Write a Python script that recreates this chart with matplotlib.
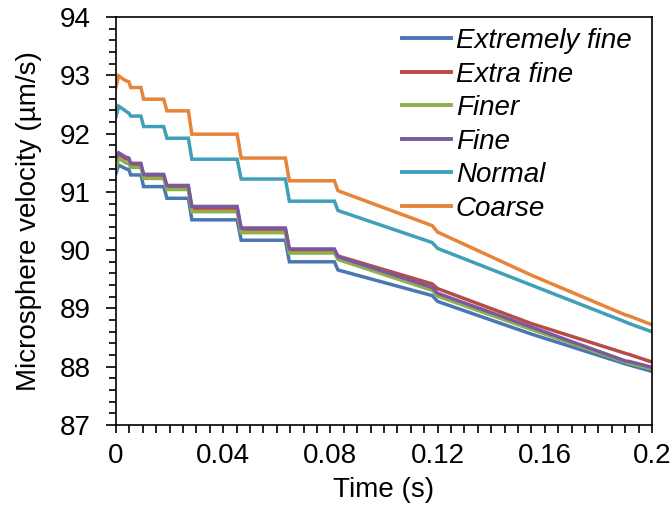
import matplotlib
matplotlib.use('Agg')
import matplotlib.pyplot as plt
from matplotlib.ticker import MultipleLocator, FixedLocator, FixedFormatter

plt.rcParams['font.family'] = ['Liberation Sans', 'DejaVu Sans']

series_names = ['Extremely fine', 'Extra fine', 'Finer', 'Fine', 'Normal', 'Coarse']
colors = ['#4a76b4', '#b84a47', '#8db04f', '#7a5a9c', '#40a0b8', '#e6843a']

time_s = [0, 0.0010, 0.0035, 0.0048, 0.0055, 0.0093, 0.0103, 0.0178, 0.0190, 0.0270,
          0.0283, 0.0452, 0.0467, 0.0632, 0.0647, 0.0815, 0.0828, 0.1180, 0.1200,
          0.1550, 0.1900, 0.1915, 0.2000]

extremely_fine = [91.32, 91.46, 91.40, 91.38, 91.29, 91.29, 91.09, 91.09, 90.89, 90.89,
                  90.52, 90.52, 90.17, 90.17, 89.80, 89.80, 89.66, 89.22, 89.12,
                  88.56, 88.05, 88.03, 87.92]
extra_fine = [91.55, 91.64, 91.57, 91.55, 91.46, 91.46, 91.27, 91.27, 91.08, 91.08,
              90.72, 90.72, 90.36, 90.36, 90.00, 90.00, 89.90, 89.42, 89.34,
              88.74, 88.23, 88.21, 88.08]
finer = [91.40, 91.58, 91.50, 91.48, 91.42, 91.42, 91.23, 91.23, 91.04, 91.04,
         90.66, 90.66, 90.30, 90.30, 89.95, 89.95, 89.84, 89.31, 89.21,
         88.64, 88.08, 88.06, 87.96]
fine = [91.58, 91.67, 91.60, 91.58, 91.49, 91.49, 91.30, 91.30, 91.11, 91.11,
        90.75, 90.75, 90.38, 90.38, 90.02, 90.02, 89.89, 89.36, 89.26,
        88.68, 88.10, 88.09, 87.99]
normal = [92.29, 92.47, 92.39, 92.35, 92.30, 92.30, 92.12, 92.12, 91.92, 91.92,
          91.56, 91.56, 91.22, 91.22, 90.84, 90.84, 90.68, 90.13, 90.03,
          89.40, 88.77, 88.74, 88.60]
coarse = [92.80, 92.99, 92.91, 92.89, 92.79, 92.79, 92.59, 92.59, 92.39, 92.39,
          91.99, 91.99, 91.58, 91.58, 91.19, 91.19, 91.02, 90.42, 90.31,
          89.57, 88.89, 88.87, 88.72]

all_series = [extremely_fine, extra_fine, finer, fine, normal, coarse]

x_ticks = [0, 0.04, 0.08, 0.12, 0.16, 0.2]
x_labels = ['0', '0.04', '0.08', '0.12', '0.16', '0.2']
y_ticks = [87, 88, 89, 90, 91, 92, 93, 94]

fig = plt.figure(figsize=(6.72, 5.07), dpi=100)
ax = fig.add_axes([116/672, 1-425/507, 536/672, 408/507])

for name, vals, c in zip(series_names, all_series, colors):
    ax.plot(time_s, vals, color=c, lw=2.5, label=name, solid_joinstyle='miter')

ax.set_xlim(0, 0.2)
ax.set_ylim(87, 94)
ax.xaxis.set_major_locator(FixedLocator(x_ticks))
ax.xaxis.set_major_formatter(FixedFormatter(x_labels))
ax.xaxis.set_minor_locator(MultipleLocator(0.005))
ax.yaxis.set_major_locator(FixedLocator(y_ticks))
ax.yaxis.set_minor_locator(MultipleLocator(0.2))

ax.tick_params(axis='both', which='both', direction='out', colors='black', width=1.2,
               top=False, right=False, labelsize=20)
ax.tick_params(axis='x', which='major', length=6, pad=7)
ax.tick_params(axis='x', which='minor', length=6)
ax.tick_params(axis='y', which='major', length=7, pad=11)
ax.tick_params(axis='y', which='minor', length=5)
for s in ax.spines.values():
    s.set_linewidth(1.2)

ax.set_xlabel('Time (s)', fontsize=20, labelpad=6)
ax.set_ylabel('Microsphere velocity (µm/s)', fontsize=20, labelpad=13)

leg = ax.legend(loc='upper left', bbox_to_anchor=(0.513, 1.0), frameon=False,
                prop={'size': 20, 'style': 'italic'}, handlelength=1.75,
                handletextpad=0.18, labelspacing=0.27, borderaxespad=0)
for line in leg.get_lines():
    line.set_linewidth(2.8)

fig.savefig('out.png', dpi=100)
